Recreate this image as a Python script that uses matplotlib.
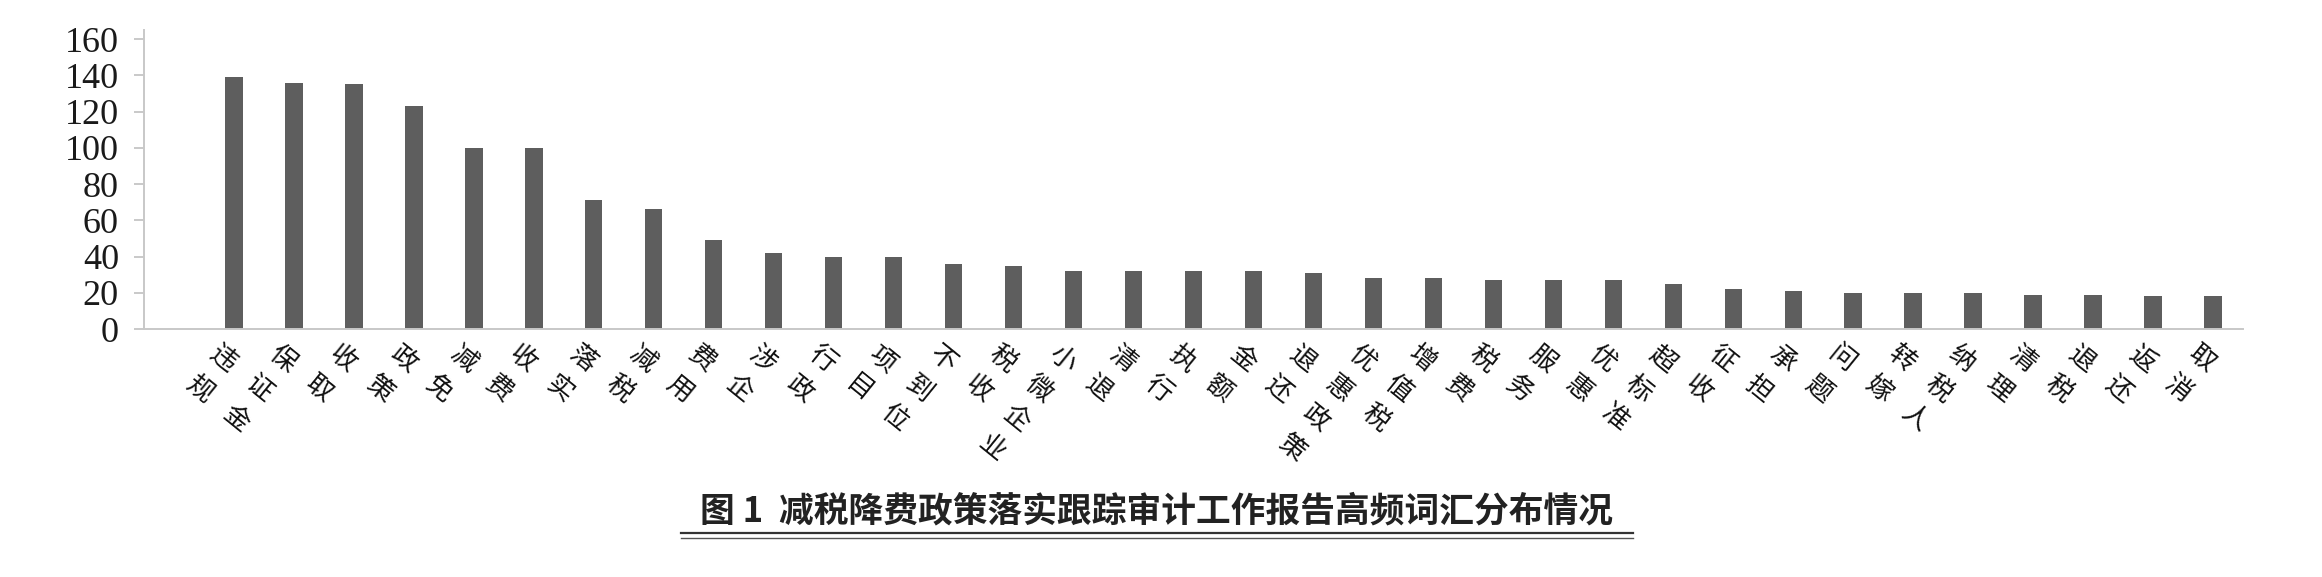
import matplotlib
matplotlib.use("Agg")
import matplotlib.pyplot as plt
from matplotlib.lines import Line2D

plt.rcParams['font.family'] = ['Noto Sans CJK SC', 'DejaVu Sans']

# High-frequency terms and their counts
terms = ["违规", "保证金", "收取", "政策", "减免", "收费", "落实", "减税", "费用", "涉企",
         "行政", "项目", "不到位", "税收", "小微企业", "清退", "执行", "金额", "退还", "优惠政策",
         "增值税", "税费", "服务", "优惠", "超标准", "征收", "承担", "问题", "转嫁", "纳税人",
         "清理", "退税", "返还", "取消"]
counts = [139, 136, 135, 123, 100, 100, 71, 66, 49, 42,
          40, 40, 36, 35, 32, 32, 32, 32, 31, 28,
          28, 27, 27, 27, 25, 22, 21, 20, 20, 20,
          19, 19, 18, 18]
y_ticks = [0, 20, 40, 60, 80, 100, 120, 140, 160]
title = "图 1  减税降费政策落实跟踪审计工作报告高频词汇分布情况"

W, H = 2322, 577
fig = plt.figure(figsize=(W / 100, H / 100), dpi=100)
ax = fig.add_axes([144 / W, 248 / H, 2099 / W, 299 / H])

# first slot of the category axis is left empty
pos = list(range(1, len(terms) + 1))
ax.bar(pos, counts, width=0.29, color='#5e5e5e')

ax.set_xlim(-0.5, len(terms) + 0.5)
ax.set_ylim(0, 165)
ax.set_yticks(y_ticks)
ax.set_xticks([])
for s in ('top', 'right'):
    ax.spines[s].set_visible(False)
for s in ('left', 'bottom'):
    ax.spines[s].set_color('#c8c8c8')
    ax.spines[s].set_linewidth(1.4)
ax.tick_params(axis='y', length=7, width=1.2, color='#c0c0c0', pad=11,
               labelsize=26, labelcolor='#1a1a1a')
for lbl in ax.get_yticklabels():
    lbl.set_fontfamily('Liberation Serif')

# stacked category labels, tilted clockwise, one glyph per step
angle = -39
step_x, step_y = -23.6, -29.6
for p, term in zip(pos, terms):
    for k, ch in enumerate(term):
        ax.annotate(ch, xy=(p, 0), xycoords='data',
                    xytext=(-11 + k * step_x, -30 + k * step_y),
                    textcoords='offset pixels',
                    rotation=angle, rotation_mode='anchor',
                    ha='center', va='center', fontsize=19, color='#111111',
                    annotation_clip=False)

# caption with double rule beneath
fig.text(1157 / W, 1 - 511 / H, title, ha='center', va='center',
         fontsize=25, fontweight='bold', color='#222222')
fig.add_artist(Line2D([681 / W, 1633 / W], [1 - 533 / H, 1 - 533 / H],
                      transform=fig.transFigure, color='#333333', linewidth=1.6))
fig.add_artist(Line2D([681 / W, 1633 / W], [1 - 537.5 / H, 1 - 537.5 / H],
                      transform=fig.transFigure, color='#555555', linewidth=1.0))

fig.savefig("out.png", dpi=100, facecolor='white')
